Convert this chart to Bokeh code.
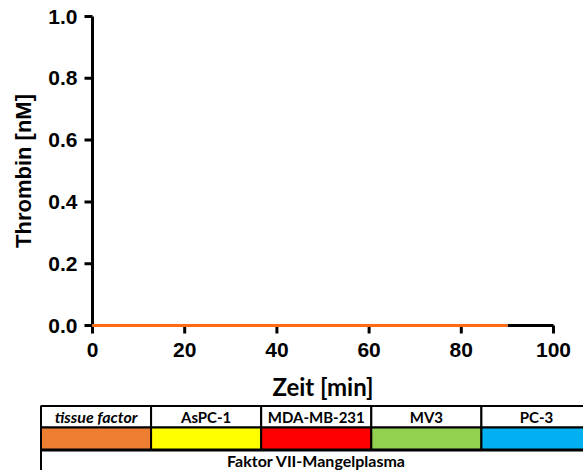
from bokeh.plotting import figure
from bokeh.models import Range1d, FixedTicker, PrintfTickFormatter
from bokeh.core.properties import value
from bokeh.embed import file_html
from bokeh.resources import INLINE

# Thrombin generation in factor VII deficient plasma (time in min, thrombin in nM)
time_min = [0, 10, 20, 30, 40, 50, 60, 70, 80, 90]
thrombin_aspc1 = [0.0, 0.0, 0.0, 0.0, 0.0, 0.0, 0.0, 0.0, 0.0, 0.0]
thrombin_mda_mb_231 = [0.0, 0.0, 0.0, 0.0, 0.0, 0.0, 0.0, 0.0, 0.0, 0.0]
thrombin_mv3 = [0.0, 0.0, 0.0, 0.0, 0.0, 0.0, 0.0, 0.0, 0.0, 0.0]
thrombin_pc3 = [0.0, 0.0, 0.0, 0.0, 0.0, 0.0, 0.0, 0.0, 0.0, 0.0]
thrombin_tissue_factor = [0.0, 0.0, 0.0, 0.0, 0.0, 0.0, 0.0, 0.0, 0.0, 0.0]

x_ticks = [0, 20, 40, 60, 80, 100]
y_ticks = [0.0, 0.2, 0.4, 0.6, 0.8, 1.0]

# legend table
conditions = ["tissue factor", "AsPC-1", "MDA-MB-231", "MV3", "PC-3"]
condition_colors = ["#ED7D31", "#FFFF00", "#FF0000", "#92D050", "#00B0F0"]
plasma_label = "Faktor VII-Mangelplasma"

AXIS_FONT = "Liberation Sans"
TABLE_FONT = "Lato"

W, H = 583, 470
# pixel layout of the axes box inside the canvas
X0_PX, X100_PX = 92.0, 553.0
Y0_PX, Y1_PX = 325.0, 16.0
x_scale = (X100_PX - X0_PX) / 100.0
y_scale = (Y0_PX - Y1_PX) / 1.0

# the frame covers the whole canvas so the table can sit below the axes
x_range = Range1d(-X0_PX / x_scale, (W - X0_PX) / x_scale)
y_range = Range1d(-(H - Y0_PX) / y_scale, 1.0 + Y1_PX / y_scale)

p = figure(width=W, height=H, output_backend="svg", toolbar_location=None,
           x_range=x_range, y_range=y_range,
           min_border=0, min_border_left=0, min_border_right=0,
           min_border_top=0, min_border_bottom=0)
p.outline_line_color = None
p.xgrid.visible = False
p.ygrid.visible = False
p.background_fill_color = "white"
p.border_fill_color = "white"

# pixel range for the tick marks and the table (y grows downward)
p.extra_x_ranges["px"] = Range1d(0, W)
p.extra_y_ranges["px"] = Range1d(H, 0)
PX = dict(x_range_name="px", y_range_name="px")

# axes sit at the data origin inside the full-canvas frame
p.xaxis.fixed_location = 0
p.yaxis.fixed_location = 0
p.xaxis.bounds = (0, 100)
p.yaxis.bounds = (0, 1)

TICK_LEN = 8
for ax in (p.xaxis[0], p.yaxis[0]):
    ax.axis_line_width = 3
    ax.axis_line_color = "#000000"
    ax.major_tick_out = 0
    ax.major_tick_in = 0
    ax.major_tick_line_color = None
    ax.minor_tick_line_color = None
    ax.major_label_text_font = AXIS_FONT
    ax.major_label_text_font_style = "bold"
    ax.major_label_text_font_size = "21px"
    ax.major_label_text_color = "#000000"
    ax.axis_label_text_font_style = "bold"
    ax.axis_label_text_color = "#000000"

p.xaxis.ticker = FixedTicker(ticks=x_ticks)
p.yaxis.ticker = FixedTicker(ticks=y_ticks)
p.yaxis.formatter = PrintfTickFormatter(format="%.1f")
p.xaxis.major_label_standoff = 9 + TICK_LEN
p.yaxis.major_label_standoff = 7 + TICK_LEN

p.xaxis.axis_label = "Zeit [min]"
p.xaxis.axis_label_text_font = TABLE_FONT
p.xaxis.axis_label_text_font_size = "24px"
p.xaxis.axis_label_standoff = 12

p.yaxis.axis_label = "Thrombin [nM]"
p.yaxis.axis_label_text_font = AXIS_FONT
p.yaxis.axis_label_text_font_size = "22px"
p.yaxis.axis_label_standoff = 9

# outward tick marks at the ticker positions (drawn with the glyphs, before the axes)
xt_px = [X0_PX + t * x_scale for t in x_ticks]
yt_px = [Y0_PX - t * y_scale for t in y_ticks]
p.segment(x0=xt_px, y0=[Y0_PX] * len(xt_px), x1=xt_px, y1=[Y0_PX + TICK_LEN] * len(xt_px),
          line_color="black", line_width=3, **PX)
p.segment(x0=[X0_PX] * len(yt_px), y0=yt_px, x1=[X0_PX - TICK_LEN] * len(yt_px), y1=yt_px,
          line_color="black", line_width=3, **PX)

series = [
    (thrombin_aspc1, condition_colors[1]),
    (thrombin_mda_mb_231, condition_colors[2]),
    (thrombin_mv3, condition_colors[3]),
    (thrombin_pc3, condition_colors[4]),
    (thrombin_tissue_factor, "#FF6A13"),
]
for ys, col in series:
    r = p.line(time_min, ys, line_color=col, line_width=3)
    r.level = "overlay"

table_left = 40.5
cell_w = 110.1
n = len(conditions)
lefts = [table_left + i * cell_w for i in range(n)]
rights = [l + cell_w for l in lefts]
centers = [(l + r) / 2 for l, r in zip(lefts, rights)]

row_top, row_mid, row_low = 405.5, 427.0, 449.5

# bottom row spanning all columns
p.quad(left=[table_left], right=[rights[-1]], top=[row_low], bottom=[H + 20],
       fill_color="white", line_color="black", line_width=2, **PX)
# header row
p.quad(left=lefts, right=rights, top=[row_top] * n, bottom=[row_mid] * n,
       fill_color="white", line_color="black", line_width=2, **PX)
# colour row
p.quad(left=lefts, right=rights, top=[row_mid] * n, bottom=[row_low] * n,
       fill_color=condition_colors, line_color="black", line_width=2, **PX)
p.segment(x0=[table_left], y0=[row_low], x1=[rights[-1]], y1=[row_low],
          line_color="black", line_width=3, **PX)

head_y = (row_top + row_mid) / 2
p.text(x=centers[:1], y=[head_y], text=conditions[:1], text_font=value(TABLE_FONT),
       text_font_style="bold italic", text_font_size="16px",
       text_align="center", text_baseline="middle", text_color="black", **PX)
p.text(x=centers[1:], y=[head_y] * (n - 1), text=conditions[1:], text_font=value(TABLE_FONT),
       text_font_style="bold", text_font_size="15px",
       text_align="center", text_baseline="middle", text_color="black", **PX)
p.text(x=[316], y=[460], text=[plasma_label],
       text_font=value(TABLE_FONT), text_font_style="bold", text_font_size="16px",
       text_align="center", text_baseline="middle", text_color="black", **PX)

open("out.html", "w").write(file_html(p, INLINE))
